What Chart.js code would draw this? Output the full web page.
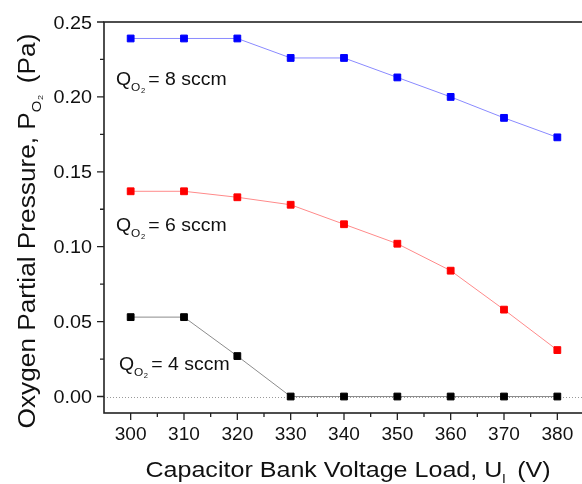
<!DOCTYPE html>
<html>
<head>
<meta charset="utf-8">
<script src="https://cdn.jsdelivr.net/npm/chart.js@4.4.1/dist/chart.umd.min.js"></script>
<style>
  html, body { margin: 0; padding: 0; background: #fff; overflow: hidden; }
  #wrap { position: absolute; left: 0; top: 0; width: 600px; height: 484px; }
</style>
</head>
<body>
<div id="wrap"><canvas id="myChart" width="600" height="484"></canvas></div>
<script>
const voltages = [300, 310, 320, 330, 340, 350, 360, 370, 380];
const pressure8 = [0.239, 0.239, 0.239, 0.226, 0.226, 0.213, 0.200, 0.186, 0.173];
const pressure6 = [0.137, 0.137, 0.133, 0.128, 0.115, 0.102, 0.084, 0.058, 0.031];
const pressure4 = [0.053, 0.053, 0.027, 0, 0, 0, 0, 0, 0];

const xTicks = [300, 310, 320, 330, 340, 350, 360, 370, 380];
const xMinor = [305, 315, 325, 335, 345, 355, 365, 375, 385];
const yTicks = [0, 0.05, 0.10, 0.15, 0.20, 0.25];
const yLabels = ['0.00', '0.05', '0.10', '0.15', '0.20', '0.25'];
const yMinor = [0.025, 0.075, 0.125, 0.175, 0.225];

const FONT = 'Arial, "Liberation Sans", sans-serif';
const INK = '#111';
const WIDE = 1.14; // text is set slightly wide

function toPoints(values) {
    return voltages.map((v, i) => ({ x: v, y: values[i] }));
}

// draws a run of text pieces (each with its own size and baseline shift)
function drawParts(ctx, parts, x, y, align, sx) {
    sx = sx || 1;
    let total = 0;
    parts.forEach(p => {
        ctx.font = p.size + 'px ' + FONT;
        total += ctx.measureText(p.t).width + (p.gap || 0);
    });
    const start = align === 'center' ? x - total * sx / 2 : x;
    ctx.save();
    ctx.translate(start, y);
    ctx.scale(sx, 1);
    ctx.textAlign = 'left';
    ctx.textBaseline = 'alphabetic';
    let cx = 0;
    parts.forEach(p => {
        ctx.font = p.size + 'px ' + FONT;
        ctx.fillText(p.t, cx, p.dy || 0);
        cx += ctx.measureText(p.t).width + (p.gap || 0);
    });
    ctx.restore();
}

function flowLabel(n) {
    return [
        { t: 'Q', size: 18 },
        { t: 'O', size: 11, dy: 6, gap: 0.5 },
        { t: '2', size: 7, dy: 8, gap: 3 },
        { t: '= ' + n + ' sccm', size: 18 }
    ];
}

const frame = {
    id: 'frame',
    beforeDatasetsDraw(chart) {
        const { ctx, chartArea: a, scales: { y } } = chart;
        // dotted zero line
        ctx.save();
        ctx.strokeStyle = '#999';
        ctx.lineWidth = 1;
        ctx.setLineDash([1, 2]);
        const y0 = Math.round(y.getPixelForValue(0)) + 0.5;
        ctx.beginPath();
        ctx.moveTo(a.left, y0);
        ctx.lineTo(a.right, y0);
        ctx.stroke();
        ctx.restore();
    },
    afterDraw(chart) {
        const { ctx, chartArea: a, scales: { x, y } } = chart;
        ctx.save();
        ctx.strokeStyle = '#222';
        ctx.lineWidth = 1.6;
        ctx.strokeRect(a.left, a.top, a.right - a.left, a.bottom - a.top);

        ctx.lineWidth = 1.3;
        ctx.beginPath();
        xTicks.forEach(v => {
            const px = x.getPixelForValue(v);
            ctx.moveTo(px, a.bottom); ctx.lineTo(px, a.bottom + 7);
        });
        xMinor.forEach(v => {
            const px = x.getPixelForValue(v);
            ctx.moveTo(px, a.bottom); ctx.lineTo(px, a.bottom + 4);
        });
        yTicks.forEach(v => {
            const py = y.getPixelForValue(v);
            ctx.moveTo(a.left, py); ctx.lineTo(a.left - 7, py);
        });
        yMinor.forEach(v => {
            const py = y.getPixelForValue(v);
            ctx.moveTo(a.left, py); ctx.lineTo(a.left - 4, py);
        });
        ctx.stroke();

        ctx.fillStyle = INK;
        xTicks.forEach(v => drawParts(ctx, [{ t: String(v), size: 18 }], x.getPixelForValue(v), 440, 'center', 1.06));
        ctx.font = '18px ' + FONT;
        yTicks.forEach((v, i) => {
            const w = ctx.measureText(yLabels[i]).width * 1.1;
            drawParts(ctx, [{ t: yLabels[i], size: 18 }], 92 - w, y.getPixelForValue(v) + 6.5, 'left', 1.1);
        });

        // axis titles
        drawParts(ctx, [
            { t: 'Capacitor Bank Voltage Load, U', size: 22, gap: 0 },
            { t: 'l', size: 13, dy: 6, gap: 4 },
            { t: ' (V)', size: 22 }
        ], 348, 477, 'center', WIDE);

        ctx.save();
        ctx.translate(35, 231);
        ctx.rotate(-Math.PI / 2);
        drawParts(ctx, [
            { t: 'Oxygen Partial Pressure, P', size: 23 },
            { t: 'O', size: 13, dy: 6, gap: 0.5 },
            { t: '2', size: 8, dy: 8, gap: 4 },
            { t: ' (Pa)', size: 23 }
        ], 0, 0, 'center', WIDE);
        ctx.restore();

        // series annotations
        drawParts(ctx, flowLabel(8), x.getPixelForValue(297.25), y.getPixelForValue(0.2078), 'left', 1.08);
        drawParts(ctx, flowLabel(6), x.getPixelForValue(297.25), y.getPixelForValue(0.1105), 'left', 1.08);
        drawParts(ctx, flowLabel(4), x.getPixelForValue(297.8), y.getPixelForValue(0.0178), 'left', 1.08);
        ctx.restore();
    }
};

function series(values, line, marker) {
    return {
        data: toPoints(values),
        borderColor: line,
        borderWidth: 1,
        pointStyle: 'rect',
        pointRadius: 4.8,
        pointBackgroundColor: marker,
        pointBorderColor: marker,
        pointBorderWidth: 1,
        tension: 0
    };
}

const ctx = document.getElementById('myChart').getContext('2d');
const myChart = new Chart(ctx, {
    type: 'line',
    data: {
        datasets: [
            series(pressure4, '#8c8c8c', '#000000'),
            series(pressure6, '#ff8a8a', '#ff0000'),
            series(pressure8, '#8a8aff', '#0000ff')
        ]
    },
    options: {
        responsive: false,
        animation: false,
        events: [],
        layout: { padding: { left: 104, top: 22, right: 16, bottom: 71 } },
        plugins: { legend: { display: false }, tooltip: { enabled: false } },
        scales: {
            x: { type: 'linear', min: 295, max: 385, display: false },
            y: { type: 'linear', min: -0.011, max: 0.25, display: false }
        }
    },
    plugins: [frame]
});
</script>
</body>
</html>
